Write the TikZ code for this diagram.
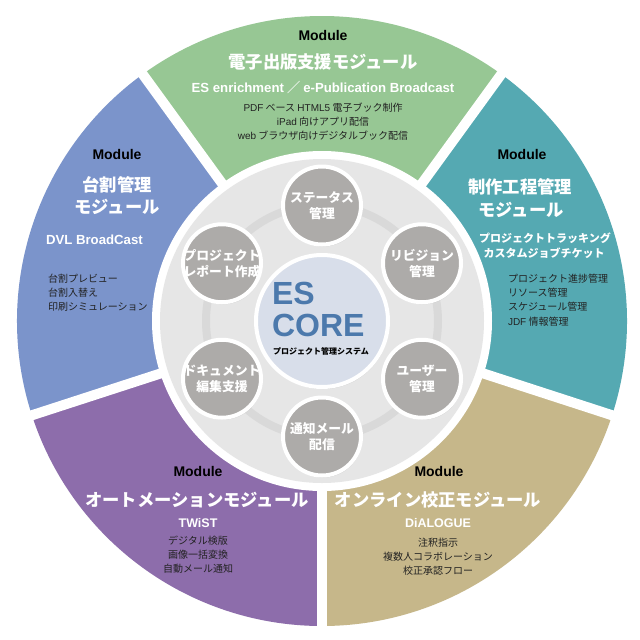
\documentclass[tikz,border=0pt]{standalone}
\usepackage{fontspec}
\setmainfont{Noto Sans CJK JP}
\newfontfamily\latf{Liberation Sans}
\usetikzlibrary{shadows}
\definecolor{cgreen}{HTML}{97C794}
\definecolor{cblue}{HTML}{7B94CB}
\definecolor{cteal}{HTML}{55A9B2}
\definecolor{cpurple}{HTML}{8D6DAB}
\definecolor{ctan}{HTML}{C6B78A}
\definecolor{cdisc}{HTML}{E6E6E6}
\definecolor{cring}{HTML}{D9D9D9}
\definecolor{csmall}{HTML}{ADABA9}
\definecolor{ccore}{HTML}{D8DEEA}
\definecolor{ccoretxt}{HTML}{4C79AC}
\definecolor{cbody}{HTML}{222222}
\begin{document}
\begin{tikzpicture}[x=1pt,y=-1pt,
  every node/.style={inner sep=0pt, outer sep=0pt},
  modtxt/.style={anchor=base, font=\latf\fontsize{14}{16}\selectfont\bfseries, text=black},
  ttl/.style={anchor=base, font=\fontsize{17.3}{20}\selectfont\bfseries, text=white},
  subt/.style={anchor=base, font=\latf\fontsize{12.5}{14}\selectfont\bfseries, text=white},
  subs/.style={anchor=base, font=\fontsize{11}{13}\selectfont\bfseries, text=white},
  bodyc/.style={anchor=base, font=\fontsize{10}{12}\selectfont, text=cbody},
  bodyl/.style={bodyc, anchor=base west},
  gapline/.style={white, line width=10pt},
  smallc/.style={circle, minimum size=78pt, fill=csmall, draw=white, line width=4pt,
     drop shadow={shadow xshift=1pt, shadow yshift=-2pt, opacity=0.25}},
  smalltxt/.style={align=center, font=\fontsize{12.8}{16}\selectfont\bfseries, text=white},
  coretxt/.style={anchor=base west, font=\latf\fontsize{32}{34}\selectfont\bfseries, text=ccoretxt}
]
\useasboundingbox (0,0) rectangle (640,640);
\fill[white] (0,0) rectangle (640,640);
\coordinate (C) at (322,321);
% wedges
\fill[cgreen]  (C) -- ++(234:305) arc[start angle=234, end angle=306, radius=305] -- cycle;
\fill[cblue]   (C) -- ++(162:305) arc[start angle=162, end angle=234, radius=305] -- cycle;
\fill[cpurple] (C) -- ++(90:305)  arc[start angle=90,  end angle=162, radius=305] -- cycle;
\fill[ctan]    (C) -- ++(18:305)  arc[start angle=18,  end angle=90,  radius=305] -- cycle;
\fill[cteal]   (C) -- ++(-54:305) arc[start angle=-54, end angle=18,  radius=305] -- cycle;
% gaps
\draw[gapline] (C) -- ++(234:312);
\draw[gapline] (C) -- ++(306:312);
\draw[gapline] (C) -- ++(162:312);
\draw[gapline] (C) -- ++(90:312);
\draw[gapline] (C) -- ++(18:312);
% core disc
\fill[white] (C) circle[radius=170];
\fill[cdisc] (C) circle[radius=162];
\draw[cring, line width=8pt] (C) circle[radius=116];
% small circles
\node[smallc] (s1) at (322,205.5) {};
\node[smallc] (s2) at (422,263.25) {};
\node[smallc] (s3) at (422,378.75) {};
\node[smallc] (s4) at (322,436.5) {};
\node[smallc] (s5) at (222,378.75) {};
\node[smallc] (s6) at (222,263.25) {};
\node[smalltxt] (t1) at (s1) {ステータス\\管理};
\node[smalltxt] (t2) at (s2) {リビジョン\\管理};
\node[smalltxt] (t3) at (s3) {ユーザー\\管理};
\node[smalltxt] (t4) at (s4) {通知メール\\配信};
\node[smalltxt] (t5) at (s5) {ドキュメント\\編集支援};
\node[smalltxt] (t6) at (s6) {プロジェクト\\レポート作成};
% center
\node[circle, minimum size=132pt, fill=ccore, draw=white, line width=4pt,
  drop shadow={shadow xshift=1pt, shadow yshift=-2pt, opacity=0.25}] (core) at (C) {};
\node[coretxt] (es) at (272,304.5) {ES};
\node[coretxt] (corew) at (272,336.5) {CORE};
\node[anchor=base, font=\fontsize{8}{9}\selectfont\bfseries, text=black] (pms) at (321,354) {プロジェクト管理システム};
% green
\node[modtxt] (gm) at (323,40) {Module};
\node[ttl] (gt) at (323,68.2) {電子出版支援モジュール};
\node[subt, font=\fontsize{13.2}{15}\selectfont\bfseries] (gs) at (323,92.5) {{\latf ES enrichment} ／ {\latf e-Publication Broadcast}};
\node[bodyc] (gb1) at (323,111.1) {{\latf PDF} ベース {\latf HTML5} 電子ブック制作};
\node[bodyc] (gb2) at (323,125.1) {{\latf iPad} 向けアプリ配信};
\node[bodyc] (gb3) at (323,139.1) {{\latf web} ブラウザ向けデジタルブック配信};
% blue
\node[modtxt] (bm) at (117,159) {Module};
\node[ttl] (bt1) at (117,191.2) {台割管理};
\node[ttl] (bt2) at (117,213.2) {モジュール};
\node[subt, anchor=base west, font=\latf\fontsize{13.2}{15}\selectfont\bfseries] (bs) at (46,244.5) {DVL BroadCast};
\node[bodyl] (bb1) at (48,282.6) {台割プレビュー};
\node[bodyl] (bb2) at (48,296.6) {台割入替え};
\node[bodyl] (bb3) at (48,310.6) {印刷シミュレーション};
% teal
\node[modtxt] (tm) at (522,159) {Module};
\node[ttl] (tt1) at (520,193.2) {制作工程管理};
\node[ttl] (tt2) at (521,216.2) {モジュール};
\node[subs] (ts1) at (545,242) {プロジェクトトラッキング};
\node[subs] (ts2) at (544,257) {カスタムジョブチケット};
\node[bodyl] (tb1) at (508,282.6) {プロジェクト進捗管理};
\node[bodyl] (tb2) at (508,296.6) {リソース管理};
\node[bodyl] (tb3) at (508,310.6) {スケジュール管理};
\node[bodyl] (tb4) at (508,325.6) {{\latf JDF} 情報管理};
% purple
\node[modtxt] (pm) at (198,476) {Module};
\node[ttl] (pt) at (197,506.2) {オートメーションモジュール};
\node[subt] (ps) at (198,527.5) {TWiST};
\node[bodyc] (pb1) at (198,544.6) {デジタル検版};
\node[bodyc] (pb2) at (198,558.6) {画像一括変換};
\node[bodyc] (pb3) at (198,572.6) {自動メール通知};
% tan
\node[modtxt] (nm) at (439,476) {Module};
\node[ttl] (nt) at (438,506.2) {オンライン校正モジュール};
\node[subt] (ns) at (438,527.5) {DiALOGUE};
\node[bodyc] (nb1) at (438,546.6) {注釈指示};
\node[bodyc] (nb2) at (438,560.6) {複数人コラボレーション};
\node[bodyc] (nb3) at (438,574.6) {校正承認フロー};
\end{tikzpicture}
\end{document}
